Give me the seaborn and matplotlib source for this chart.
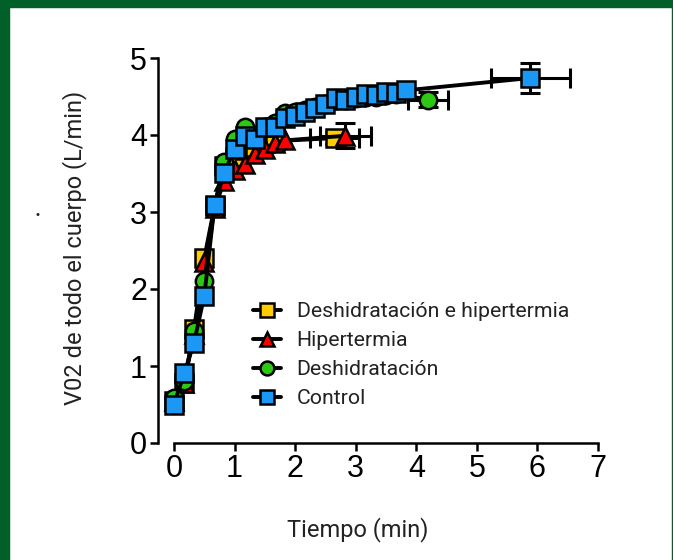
import matplotlib
matplotlib.use("Agg")
import matplotlib.pyplot as plt
import seaborn as sns
import pandas as pd
from matplotlib.patches import Rectangle

sns.set_style("ticks")
plt.rcParams['font.family'] = ['Liberation Sans', 'DejaVu Sans']

# ---- data ----
series_names = ["Deshidratación e hipertermia", "Hipertermia", "Deshidratación", "Control"]

t_dh = [0, 0.17, 0.33, 0.5, 0.67, 0.83, 1.0, 1.17, 1.33, 1.5, 1.67, 2.65]
v_dh = [0.55, 0.78, 1.48, 2.4, 3.08, 3.6, 3.72, 3.8, 3.85, 3.9, 3.92, 3.96]

t_h = [0, 0.17, 0.33, 0.5, 0.67, 0.83, 1.0, 1.17, 1.33, 1.5, 1.67, 1.83, 2.83]
v_h = [0.55, 0.78, 1.42, 2.35, 3.05, 3.4, 3.55, 3.62, 3.75, 3.82, 3.9, 3.93, 3.99]

t_d = [0, 0.17, 0.33, 0.5, 0.67, 0.83, 1.0, 1.17, 1.33, 1.5, 1.67, 1.83, 2.0,
       2.17, 2.33, 2.5, 2.67, 2.83, 3.0, 3.17, 3.33, 3.5, 3.67, 4.19]
v_d = [0.58, 0.8, 1.45, 2.1, 3.08, 3.65, 3.95, 4.1, 3.98, 4.1, 4.15, 4.28, 4.3,
       4.33, 4.37, 4.4, 4.45, 4.45, 4.48, 4.5, 4.5, 4.52, 4.53, 4.46]

t_c = [0, 0.17, 0.33, 0.5, 0.67, 0.83, 1.0, 1.17, 1.33, 1.5, 1.67, 1.83, 2.0,
       2.17, 2.33, 2.5, 2.67, 2.83, 3.0, 3.17, 3.33, 3.5, 3.67, 3.83, 5.88]
v_c = [0.5, 0.91, 1.3, 1.91, 3.09, 3.51, 3.82, 3.99, 3.95, 4.1, 4.1, 4.22, 4.25,
       4.3, 4.35, 4.4, 4.48, 4.46, 4.5, 4.53, 4.52, 4.56, 4.55, 4.58, 4.74]

# final-point error bars (x err, y err)
xerr_final = [0.4, 0.42, 0.33, 0.65]
yerr_final = [0.08, 0.16, 0.1, 0.2]

x_ticks = [0, 1, 2, 3, 4, 5, 6, 7]
y_ticks = [0, 1, 2, 3, 4, 5]

colors = ["#FFCC00", "#FF0000", "#2DC814", "#1B98F5"]
markers = ["s", "^", "o", "s"]
msizes = [12.5, 13, 12.5, 12.5]

W, H = 673, 560
fig = plt.figure(figsize=(W / 100, H / 100), dpi=100)
ax = fig.add_axes([158 / W, 1 - 443 / H, (598 - 158) / W, (443 - 58) / H])

all_t = [t_dh, t_h, t_d, t_c]
all_v = [v_dh, v_h, v_d, v_c]

for i, (tt, vv) in enumerate(zip(all_t, all_v)):
    df = pd.DataFrame({"t": tt, "v": vv})
    ax.errorbar(tt[-1], vv[-1], xerr=xerr_final[i], yerr=yerr_final[i],
                fmt="none", ecolor="black", elinewidth=2.2, capsize=7,
                capthick=2.2, zorder=2 + i)
    sns.lineplot(data=df, x="t", y="v", ax=ax, color="black", linewidth=2.8,
                 marker=markers[i], markersize=msizes[i],
                 markerfacecolor=colors[i], markeredgecolor="black",
                 markeredgewidth=1.8, label=series_names[i], zorder=3 + i,
                 sort=False, estimator=None)

ax.set_xlim(-16 / 60.57, 7.0)
ax.set_ylim(0, 5)
ax.set_xticks(x_ticks)
ax.set_yticks(y_ticks)
ax.set_xticklabels([str(v) for v in x_ticks])
ax.set_yticklabels([str(v) for v in y_ticks])
ax.spines["top"].set_visible(False)
ax.spines["right"].set_visible(False)
ax.spines["bottom"].set_bounds(0, 7)
ax.spines["left"].set_bounds(0, 5)
for s in ["left", "bottom"]:
    ax.spines[s].set_linewidth(1.8)
    ax.spines[s].set_color("black")
ax.tick_params(axis="both", length=6, width=1.8, color="black",
               labelsize=22, pad=2, labelcolor="black")
ax.set_xlabel("")
ax.set_ylabel("")

narrow = ['Roboto', 'DejaVu Sans']
fig.text(358 / W, 1 - 530 / H, "Tiempo (min)", ha="center", va="center",
         fontsize=17, family=narrow, color="#222222")
fig.text(75 / W, 1 - 248 / H, "V02 de todo el cuerpo (L/min)", ha="center",
         va="center", rotation=90, fontsize=17, family=narrow, color="#222222")
fig.text(37 / W, 1 - 215 / H, "•", ha="center", va="center", fontsize=8,
         color="#222222")

handles, labels = ax.get_legend_handles_labels()
leg = ax.legend(handles, labels, loc="upper left",
                bbox_to_anchor=(253 / W, 1 - 302 / H),
                bbox_transform=fig.transFigure, frameon=False,
                prop={"family": narrow, "size": 15.3}, handlelength=1.3,
                handletextpad=0.75, labelspacing=0.47, borderpad=0,
                borderaxespad=0)
for t in leg.get_texts():
    t.set_color("#222222")
for lh in leg.legend_handles:
    lh.set_markersize(10)

green = "#006028"
fig.patches.append(Rectangle((0, 0), 9 / W, 1, transform=fig.transFigure,
                             color=green, zorder=10))
fig.patches.append(Rectangle((0, 1 - 7 / H), 1, 7 / H, transform=fig.transFigure,
                             color=green, zorder=10))
fig.patches.append(Rectangle((672 / W, 0), 1 / W, 1, transform=fig.transFigure,
                             color=green, zorder=10))

fig.savefig("out.png", dpi=100)
